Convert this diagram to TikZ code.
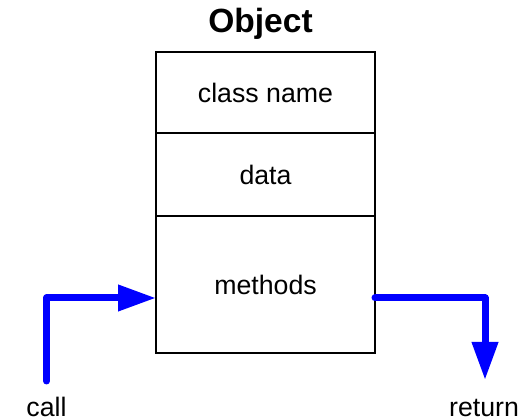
\documentclass[tikz,border=0pt]{standalone}
\usepackage{fontspec}
\setmainfont{Liberation Sans}
\usepackage{tikz}
\usetikzlibrary{arrows.meta}

\begin{document}
\begin{tikzpicture}[line width=0.85pt,
  compartment/.style={rectangle, draw, minimum width=4.38cm, inner sep=0pt, font=\fontsize{15.2}{18}\selectfont},
  flow/.style={draw=blue, line width=0.14cm, line cap=round, line join=round, -{Triangle[length=0.76cm, width=0.5cm]}},
  label/.style={anchor=base, font=\fontsize{15.2}{18}\selectfont}]
\useasboundingbox (0,0) rectangle (10.54,8.38);
\node [anchor=base, font=\fontsize{19.1}{23}\selectfont\bfseries] (title) at (5.21,7.72) {Object};
\node [compartment, minimum height=1.62cm] (cname) at (5.31,6.53) {class name};
\node [compartment, minimum height=1.66cm] (data) at (5.31,4.89) {data};
\node [compartment, minimum height=2.74cm] (methods) at (5.31,2.69) {methods};

\coordinate (c0) at (0.93,0.76);
\coordinate (in) at (3.12,2.42);
\coordinate (out) at (7.5,2.42);
\coordinate (r0) at (9.7,0.78);
\node [label] (call) at (0.93,0.05) {call};
\node [label] (return) at (9.68,0.05) {return};

\draw[flow] (c0) |- (in);
\draw[flow] (out) -| (r0);
\end{tikzpicture}
\end{document}
